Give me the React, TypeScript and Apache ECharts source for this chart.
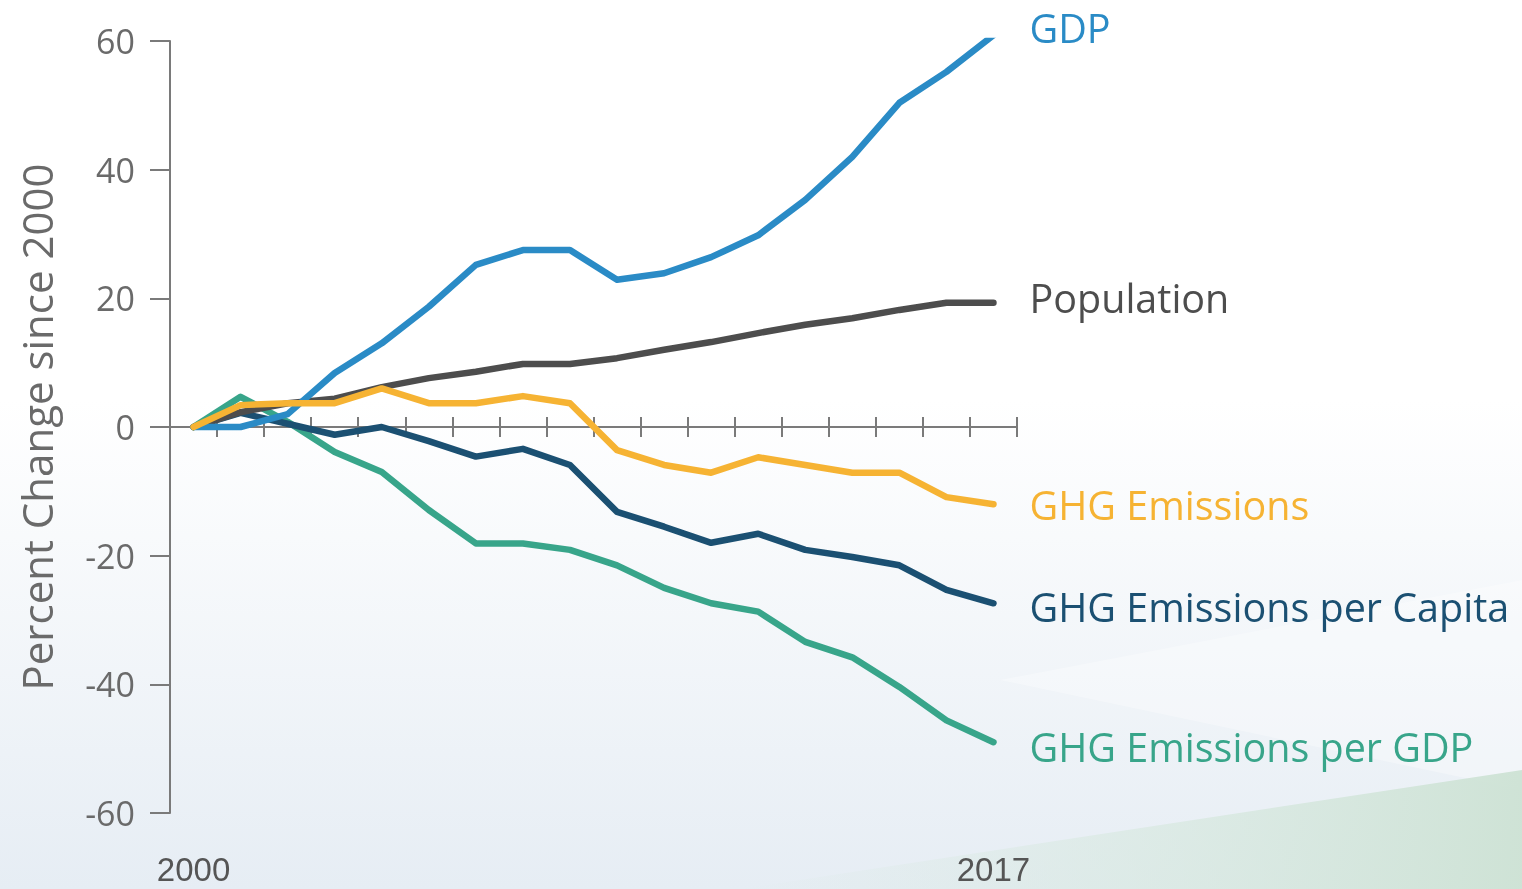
import React, { useEffect, useRef } from "react";
import * as echarts from "echarts";

const years = ["2000","2001","2002","2003","2004","2005","2006","2007","2008","2009","2010","2011","2012","2013","2014","2015","2016","2017"];
const gdp = [0, 0, 2, 8.4, 13, 18.7, 25.2, 27.5, 27.5, 22.9, 23.9, 26.4, 29.8, 35.3, 42.0, 50.4, 55.2, 60.9];
const population = [0, 2.3, 3.7, 4.4, 6.2, 7.6, 8.6, 9.8, 9.8, 10.7, 12.0, 13.2, 14.6, 15.9, 16.9, 18.2, 19.3, 19.3];
const ghg = [0, 3.4, 3.7, 3.7, 6.0, 3.7, 3.7, 4.8, 3.7, -3.6, -5.9, -7.1, -4.7, -5.9, -7.1, -7.1, -10.9, -12.0];
const ghgPerCapita = [0, 2.2, 0.5, -1.2, 0, -2.2, -4.6, -3.4, -5.9, -13.2, -15.5, -18.0, -16.6, -19.1, -20.2, -21.5, -25.3, -27.4];
const ghgPerGdp = [0, 4.7, 0.8, -3.9, -7.0, -12.9, -18.1, -18.1, -19.1, -21.5, -25.0, -27.4, -28.7, -33.4, -35.8, -40.4, -45.6, -49.0];

const FONT = "'Open Sans', 'Noto Sans', sans-serif";

function mkSeries(name: string, data: number[], color: string, offsetY: number, z: number) {
  return {
    name,
    type: "line",
    data,
    xAxisIndex: 0,
    yAxisIndex: 0,
    symbol: "none",
    z,
    lineStyle: { color, width: 6.5, cap: "round", join: "round" },
    endLabel: {
      show: true,
      formatter: name,
      color,
      fontSize: 39.5,
      fontFamily: FONT,
      distance: 36,
      offset: [0, offsetY],
    },
  };
}

export default function App() {
  const ref = useRef<HTMLDivElement>(null);
  useEffect(() => {
    if (!ref.current) return;
    const chart = echarts.init(ref.current, null, { renderer: "svg" });
    const axisColor = "#7a7a7a";
    chart.setOption({
      animation: false,
      backgroundColor: "transparent",
      graphic: [
        {
          type: "rect",
          z: -10,
          silent: true,
          shape: { x: 0, y: 0, width: 1522, height: 889 },
          style: {
            fill: new echarts.graphic.LinearGradient(0, 0, 0, 1, [
              { offset: 0, color: "#ffffff" },
              { offset: 0.45, color: "#ffffff" },
              { offset: 1, color: "#e6edf4" },
            ]),
          },
        },
        {
          type: "polygon",
          z: -9,
          silent: true,
          shape: { points: [[1000, 680], [1522, 580], [1522, 790]] },
          style: { fill: "rgba(255,255,255,0.3)" },
        },
        {
          type: "polygon",
          z: -8,
          silent: true,
          shape: { points: [[740, 889], [1522, 770], [1522, 889]] },
          style: {
            fill: new echarts.graphic.LinearGradient(0, 0, 1, 0, [
              { offset: 0, color: "rgba(214,232,222,0)" },
              { offset: 0.5, color: "rgba(214,232,222,0.6)" },
              { offset: 1, color: "rgba(205,226,212,0.95)" },
            ]),
          },
        },
      ],
      grid: { left: 170, right: 505, top: 41, bottom: 76, containLabel: false, outerBoundsMode: "none" },
      xAxis: [
        {
          type: "category",
          data: years,
          boundaryGap: true,
          position: "bottom",
          axisLine: { show: true, onZero: true, onZeroAxisIndex: 0, lineStyle: { color: axisColor, width: 2 } },
          axisTick: { show: true, length: 10, interval: 0, lineStyle: { color: axisColor, width: 2 } },
          axisLabel: { show: false },
          splitLine: { show: false },
        },
        {
          type: "category",
          data: years,
          boundaryGap: true,
          position: "top",
          axisLine: { show: true, onZero: true, onZeroAxisIndex: 1, lineStyle: { color: axisColor, width: 2 } },
          axisTick: { show: true, length: 10, interval: 0, lineStyle: { color: axisColor, width: 2 } },
          axisLabel: { show: false },
          splitLine: { show: false },
        },
        {
          type: "category",
          data: years,
          boundaryGap: true,
          position: "bottom",
          axisLine: { show: false, onZero: false },
          axisTick: { show: false },
          axisLabel: {
            show: true,
            interval: (i: number) => i === 0 || i === years.length - 1,
            fontSize: 33,
            fontFamily: "'Liberation Sans', Arial, sans-serif",
            color: "#555555",
            margin: 40,
          },
          splitLine: { show: false },
        },
      ],
      yAxis: [
        {
          type: "value",
          min: -60,
          max: 60,
          interval: 20,
          name: "Percent Change since 2000",
          nameLocation: "middle",
          nameGap: 113,
          nameTextStyle: { fontSize: 42, color: "#6a6a6a", fontFamily: FONT },
          axisLine: { show: true, onZero: false, lineStyle: { color: axisColor, width: 2 } },
          axisTick: { show: true, length: 20, lineStyle: { color: axisColor, width: 2 } },
          axisLabel: { fontSize: 34, color: "#6a6a6a", fontFamily: FONT, margin: 35 },
          splitLine: { show: false },
        },
        {
          type: "value",
          min: -60,
          max: 60,
          interval: 20,
          position: "right",
          axisLine: { show: false, onZero: false },
          axisTick: { show: false },
          axisLabel: { show: false },
          splitLine: { show: false },
        },
      ],
      series: [
        mkSeries("GHG Emissions per GDP", ghgPerGdp, "#38a58a", 5, 3),
        mkSeries("GHG Emissions per Capita", ghgPerCapita, "#1b5072", 4, 4),
        mkSeries("Population", population, "#4d4d4d", -5, 5),
        mkSeries("GDP", gdp, "#2a8bc6", -7, 6),
        mkSeries("GHG Emissions", ghg, "#f6b333", 1, 7),
      ],
    });
    return () => chart.dispose();
  }, []);
  return (
    <div
      ref={ref}
      style={{ position: "fixed", left: 0, top: 0, width: 1522, height: 889 }}
    />
  );
}
